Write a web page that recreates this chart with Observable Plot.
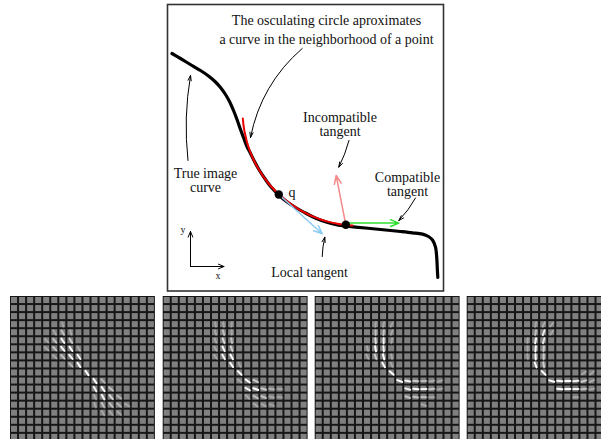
<!DOCTYPE html>
<html><head><meta charset="utf-8">
<script src="https://cdn.jsdelivr.net/npm/d3@7"></script>
<script src="https://cdn.jsdelivr.net/npm/@observablehq/plot@0.6"></script>
<style>
html,body{margin:0;padding:0;background:#fff;}
#chart svg{display:block;}
</style></head><body><div id="chart"></div>
<script>
// ---- top figure: the true image curve (figure units, y downward) ----
const curveX = [171.5,180,191.5,200,208,215,220,225,229,233,236.5,240,243,246,250,254,259,265,271,278.3,286,295,305,316,328,338,346,355,370,385,400,412,422,428,432,435,436.3,436.8,437.3];
const curveY = [53,58,65,70,75.5,81.5,87,94,101,110,119,129,137,145,153,161,170,179,187,194.5,201,207,212.5,218,222.3,224.6,225.6,226.6,228,229.5,231,232.3,233.6,236,239.5,246.7,258,268,277];
// osculating circle arc
const circleX = [242.3,243.8,248.9,257.4,268.9,283.1,299.5,317.7,337.0,346,352];
const circleY = [118,130,149.3,167.5,184,198.1,209.6,218.1,223.3,224.6,225];
// points on the curve
const pointNames = ["q", "p"];
const pointX = [278.3, 345.3];
const pointY = [194, 224.3];
// tangent vectors
const tangentNames = ["local", "incompatible", "compatible"];
const tangentX1 = [278.3, 345.3, 345.3];
const tangentY1 = [194, 224.3, 222.6];
const tangentX2 = [321.7, 335.7, 398.3];
const tangentY2 = [233.3, 175, 222.6];
const tangentColors = ["#8ccbf2", "#f48a8a", "#2ee02e"];
// annotation arrows
const annX1 = [301.7, 187.5, 348.5, 415, 321.7];
const annY1 = [48, 160, 140, 197.5, 256];
const annX2 = [250, 190, 338.3, 398.3, 324.3];
const annY2 = [137, 75, 166.7, 220, 236.7];
const annBend = [-19, 8, 6, 8, 6];
// labels
const labelText = ["The osculating circle aproximates","a curve in the neighborhood of a point","Incompatible","tangent","True image","curve","Compatible","tangent","Local tangent","q"];
const labelX = [326, 326, 339.5, 339.5, 205, 205, 407, 407, 309, 291.5];
const labelY = [24, 43.3, 121, 135, 177, 191, 181, 195, 276, 196];
const axisLabelText = ["y", "x"];
const axisLabelX = [182.5, 217.5];
const axisLabelY = [232.5, 278.5];

// ---- bottom panels: [row, col, intensity, orientation in degrees] ----
const panel1 = [
[3,6,0.25,75],
[4,5,0.3,60],[4,6,0.5,60],[4,7,0.3,75],
[5,4,0.3,45],[5,5,0.5,50],[5,6,0.9,55],[5,7,0.6,60],
[6,4,0.3,40],[6,5,0.5,45],[6,6,0.95,50],[6,7,1,55],[6,8,0.3,60],
[7,5,0.3,40],[7,6,0.5,45],[7,7,0.9,50],[7,8,0.95,55],
[8,7,0.4,45],[8,8,1,55],
[9,9,1,55],
[10,10,1,55],[10,11,0.4,45],
[11,10,0.9,60],[11,11,1,55],[11,12,0.5,40],
[12,10,0.3,65],[12,11,0.9,60],[12,12,0.7,50],[12,13,0.4,35],
[13,10,0.3,70],[13,11,0.5,60],[13,12,0.5,50],[13,13,0.4,40],[13,14,0.3,30],
[14,11,0.3,60],[14,12,0.3,50],[14,13,0.3,40]
];
const panel2 = [
[3,6,0.25,80],[3,7,0.3,80],[3,8,0.25,95],
[4,6,0.3,75],[4,7,0.5,75],[4,8,0.3,90],
[5,6,0.3,70],[5,7,0.7,70],[5,8,0.5,80],
[6,6,0.3,60],[6,7,0.95,65],[6,8,0.6,70],
[7,6,0.3,55],[7,7,0.9,60],[7,8,1,60],
[8,8,1,55],[8,9,0.3,65],
[9,9,1,45],
[10,9,0.3,35],[10,10,1,35],[10,11,0.6,25],
[11,10,0.9,30],[11,11,1,20],[11,12,0.6,15],[11,13,0.4,10],[11,14,0.3,5],
[12,10,0.3,45],[12,11,0.5,30],[12,12,0.5,20],[12,13,0.3,15],[12,14,0.25,10],
[13,11,0.3,35],[13,12,0.3,25],[13,13,0.25,20]
];
const panel3 = [
[3,7,0.3,95],[3,8,0.3,100],[3,9,0.25,115],
[4,7,0.5,90],[4,8,0.55,95],[4,9,0.3,110],
[5,7,0.75,85],[5,8,0.9,90],[5,9,0.3,100],
[6,6,0.3,75],[6,7,1,80],[6,8,0.9,85],
[7,6,0.3,65],[7,7,0.6,70],[7,8,1,75],[7,9,0.3,80],
[8,8,1,60],[8,9,0.3,65],
[9,9,1,40],
[10,10,1,20],[10,11,0.9,10],[10,12,0.6,5],[10,13,0.45,0],[10,14,0.35,-10],[10,15,0.3,-15],
[11,11,0.9,15],[11,12,1,5],[11,13,0.9,0],[11,14,0.55,-5],[11,15,0.3,-10],
[12,11,0.5,20],[12,12,0.5,10],[12,13,0.5,5],[12,14,0.3,0],
[13,13,0.3,20]
];
const panel4 = [
[3,8,0.3,100],[3,9,0.35,115],[3,10,0.3,130],
[4,8,0.5,100],[4,9,0.85,110],[4,10,0.3,125],
[5,7,0.3,95],[5,8,0.95,100],[5,9,0.8,105],
[6,7,0.3,90],[6,8,1,95],[6,9,0.6,95],
[7,7,0.3,85],[7,8,1,88],[7,9,0.6,90],
[8,8,1,70],[8,9,0.6,80],
[9,9,1,45],[9,14,0.3,-35],[9,15,0.3,-40],
[10,10,1,15],[10,11,1,5],[10,12,1,0],[10,13,0.9,-5],[10,14,0.6,-15],[10,15,0.35,-25],
[11,11,1,5],[11,12,1,0],[11,13,0.9,0],[11,14,0.5,-5],[11,15,0.3,-10],
[12,13,0.3,0]
];
const panels = [panel1, panel2, panel3, panel4];

// ---- layout ----
const W = 601, H = 439;
const serif = "Liberation Serif, Times New Roman, serif";
const pitch = 8.05, nCells = 18, panelTop = 296;
const panelLeft = [10, 162.7, 314.7, 466.7];

const curve = curveX.map((x, i) => ({x, y: curveY[i]}));
const circle = circleX.map((x, i) => ({x, y: circleY[i]}));
const pts = pointNames.map((n, i) => ({n, x: pointX[i], y: pointY[i]}));
const tangents = tangentNames.map((n, i) => ({n, x1: tangentX1[i], y1: tangentY1[i], x2: tangentX2[i], y2: tangentY2[i], c: tangentColors[i]}));
const labels = labelText.map((t, i) => ({t, x: labelX[i], y: labelY[i]}));
const axisLabels = axisLabelText.map((t, i) => ({t, x: axisLabelX[i], y: axisLabelY[i]}));

const bgs = panelLeft.map(x0 => ({x1: x0, x2: x0 + nCells * pitch, y1: panelTop, y2: panelTop + nCells * pitch}));
const cells = [];
panelLeft.forEach(x0 => {
  for (let r = 0; r < nCells; r++) for (let c = 0; c < nCells; c++) {
    cells.push({x1: x0 + c * pitch + 1, x2: x0 + (c + 1) * pitch - 1, y1: panelTop + r * pitch + 1, y2: panelTop + (r + 1) * pitch - 1});
  }
});
const strokes = [];
const half = 2.6;
panels.forEach((arr, p) => arr.forEach(([r, c, v, a]) => {
  const cx = panelLeft[p] + (c + 0.5) * pitch, cy = panelTop + (r + 0.5) * pitch;
  const dx = Math.cos(a * Math.PI / 180) * half, dy = Math.sin(a * Math.PI / 180) * half;
  strokes.push({x1: cx - dx, y1: cy - dy, x2: cx + dx, y2: cy + dy, v});
}));

const annMarks = annX1.map((x1, i) => Plot.arrow([{x1, y1: annY1[i], x2: annX2[i], y2: annY2[i]}], {
  x1: "x1", y1: "y1", x2: "x2", y2: "y2", bend: annBend[i], stroke: "black", strokeWidth: 1, headLength: 8, headAngle: 35
}));

const chart = Plot.plot({
  width: W, height: H, margin: 0,
  x: {domain: [0, W], range: [0, W], axis: null},
  y: {domain: [0, H], range: [0, H], axis: null},
  style: {background: "white", overflow: "hidden"},
  marks: [
    // top box
    Plot.rect([{x1: 167.5, x2: 443.5, y1: 4.5, y2: 291}], {x1: "x1", x2: "x2", y1: "y1", y2: "y2", fill: "none", stroke: "#333", strokeWidth: 1.6}),
    // curve + circle
    Plot.line(curve, {x: "x", y: "y", stroke: "black", strokeWidth: 3.2, curve: "catmull-rom"}),
    Plot.line(circle, {x: "x", y: "y", stroke: "#ee0000", strokeWidth: 2, curve: "catmull-rom"}),
    // tangents
    Plot.arrow(tangents, {x1: "x1", y1: "y1", x2: "x2", y2: "y2", stroke: d => d.c, strokeWidth: 1.5, headLength: 9, headAngle: 45}),
    Plot.dot(pts, {x: "x", y: "y", r: 4.2, fill: "black"}),
    // annotation arrows
    ...annMarks,
    // x / y axes indicator
    Plot.arrow([{x1: 190, y1: 266, x2: 190, y2: 231}, {x1: 190, y1: 266, x2: 223.5, y2: 266}], {x1: "x1", y1: "y1", x2: "x2", y2: "y2", stroke: "black", strokeWidth: 1, headLength: 9, headAngle: 45}),
    Plot.text(labels, {x: "x", y: "y", text: "t", fontSize: 14, fontFamily: serif, fill: "#111", textAnchor: "middle", lineAnchor: "bottom"}),
    Plot.text(axisLabels, {x: "x", y: "y", text: "t", fontSize: 10, fontFamily: serif, fill: "#111", textAnchor: "middle", lineAnchor: "bottom"}),
    // bottom panels
    Plot.rect(bgs, {x1: "x1", x2: "x2", y1: "y1", y2: "y2", fill: "#161616"}),
    Plot.rect(cells, {x1: "x1", x2: "x2", y1: "y1", y2: "y2", fill: "#808080"}),
    Plot.link(strokes, {x1: "x1", y1: "y1", x2: "x2", y2: "y2", stroke: "white", strokeOpacity: "v", strokeWidth: 2, strokeLinecap: "round"})
  ]
});
document.getElementById("chart").append(chart);
</script>
</body></html>
